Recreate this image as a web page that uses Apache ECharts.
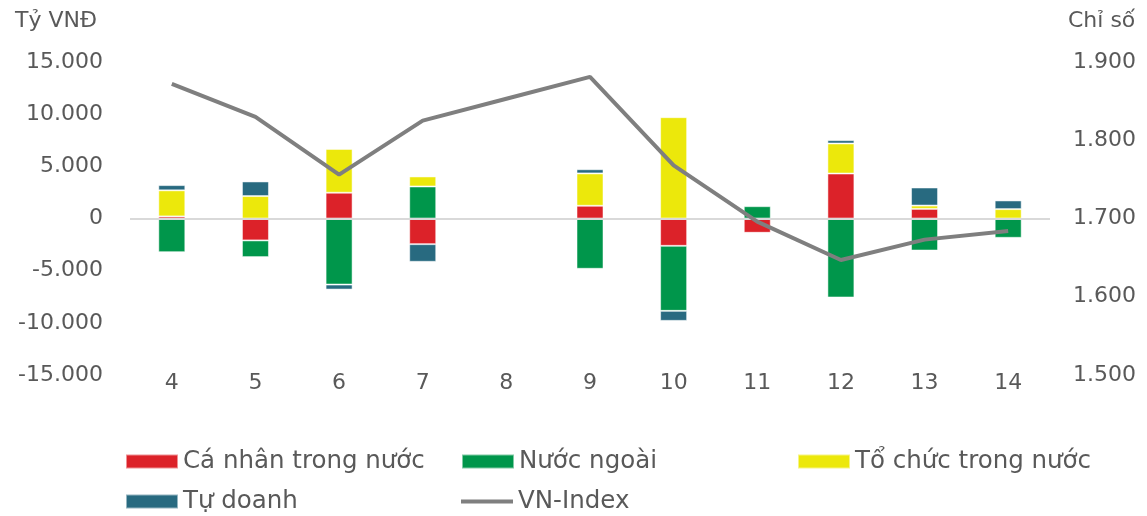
<!DOCTYPE html>
<html><head><meta charset="utf-8">
<script src="https://cdn.jsdelivr.net/npm/echarts@6/dist/echarts.min.js"></script>
<style>html,body{margin:0;padding:0;background:#fff}#c{width:1147px;height:516px}</style>
</head><body><div id="c"></div>
<script>
const categories = ['4','5','6','7','8','9','10','11','12','13','14'];
const caNhan    = [200, -2100, 2470, -2460, null, 1220, -2620, -1370, 4310, 920, null];
const nuocNgoai = [-3230, -1600, -6330, 3070, null, -4820, -6230, 1180, -7570, -3070, -1850];
const toChuc    = [2500, 2150, 4200, 960, null, 3100, 9710, -60, 2880, 320, 900];
const tuDoanh   = [500, 1400, -480, -1690, null, 400, -960, null, 320, 1730, 830];
const vnIndex   = [1872, 1830, 1756, 1825, 1853, 1881, 1768, 1696, 1647, 1673, 1684];
const leftTicks = [-15000, 15000, 5000];
const rightTicks = [1500, 1900, 100];

const FONT = 'DejaVu Sans';
const TXT = '#595959';
const fmt = v => { const s = Math.abs(v).toString().replace(/\B(?=(\d{3})+(?!\d))/g, '.'); return (v < 0 ? '-' : '') + s; };

const chart = echarts.init(document.getElementById('c'), null, {renderer: 'canvas'});
const barCommon = {type: 'bar', stack: 'a', barWidth: 27, yAxisIndex: 0,
  itemStyle: {borderColor: 'rgba(255,255,255,0.5)', borderWidth: 1}};
const legendBase = {orient: 'horizontal', icon: 'rect', itemWidth: 52, itemHeight: 14, itemGap: 4, padding: 0,
  textStyle: {fontFamily: FONT, fontSize: 24.5, color: TXT}, selectedMode: false};
chart.setOption({
  animation: false,
  textStyle: {fontFamily: FONT},
  grid: {left: 130, right: 97, top: 62, bottom: 141, outerBoundsMode: 'none', containLabel: false},
  xAxis: {type: 'category', data: categories,
    axisLine: {show: false}, axisTick: {show: false},
    axisLabel: {fontFamily: FONT, fontSize: 22, color: TXT, margin: -3}},
  yAxis: [
    {type: 'value', min: leftTicks[0], max: leftTicks[1], interval: leftTicks[2],
     name: 'Tỷ VNĐ', nameLocation: 'end', nameGap: 30, nameTextStyle: {fontFamily: FONT, fontSize: 22, color: TXT, align: 'left', padding: [0,0,0,-115]},
     axisLine: {show: false}, axisTick: {show: false}, splitLine: {show: false},
     axisLabel: {fontFamily: FONT, fontSize: 22, color: TXT, margin: 27, formatter: fmt}},
    {type: 'value', min: rightTicks[0], max: rightTicks[1], interval: rightTicks[2],
     name: 'Chỉ số', nameLocation: 'end', nameGap: 30, nameTextStyle: {fontFamily: FONT, fontSize: 22, color: TXT, align: 'left', padding: [0,0,0,18]},
     axisLine: {show: false}, axisTick: {show: false}, splitLine: {show: false},
     axisLabel: {fontFamily: FONT, fontSize: 22, color: TXT, margin: 23, formatter: fmt}}
  ],
  legend: [
    Object.assign({}, legendBase, {left: 125, top: 449, data: ['Cá nhân trong nước']}),
    Object.assign({}, legendBase, {left: 461, top: 449, data: ['Nước ngoài']}),
    Object.assign({}, legendBase, {left: 797, top: 449, data: ['Tổ chức trong nước']}),
    Object.assign({}, legendBase, {left: 125, top: 489, data: ['Tự doanh']}),
    Object.assign({}, legendBase, {left: 461, top: 489, itemHeight: 4, data: ['VN-Index']})
  ],
  series: [
    Object.assign({}, barCommon, {name: 'Cá nhân trong nước', data: caNhan, itemStyle: Object.assign({}, barCommon.itemStyle, {color: '#dc2229'}),
      markLine: {silent: true, symbol: 'none', label: {show: false}, lineStyle: {color: '#d9d9d9', width: 2, type: 'solid'}, data: [{yAxis: 0}]}}),
    Object.assign({}, barCommon, {name: 'Nước ngoài', data: nuocNgoai, itemStyle: Object.assign({}, barCommon.itemStyle, {color: '#00964b'})}),
    Object.assign({}, barCommon, {name: 'Tổ chức trong nước', data: toChuc, itemStyle: Object.assign({}, barCommon.itemStyle, {color: '#ece80b'})}),
    Object.assign({}, barCommon, {name: 'Tự doanh', data: tuDoanh, itemStyle: Object.assign({}, barCommon.itemStyle, {color: '#286a80'})}),
    {type: 'line', name: 'VN-Index', yAxisIndex: 1, data: vnIndex, symbol: 'none', z: 5,
     lineStyle: {color: '#7f7f7f', width: 4}, itemStyle: {color: '#7f7f7f'}}
  ]
});
</script></body></html>
